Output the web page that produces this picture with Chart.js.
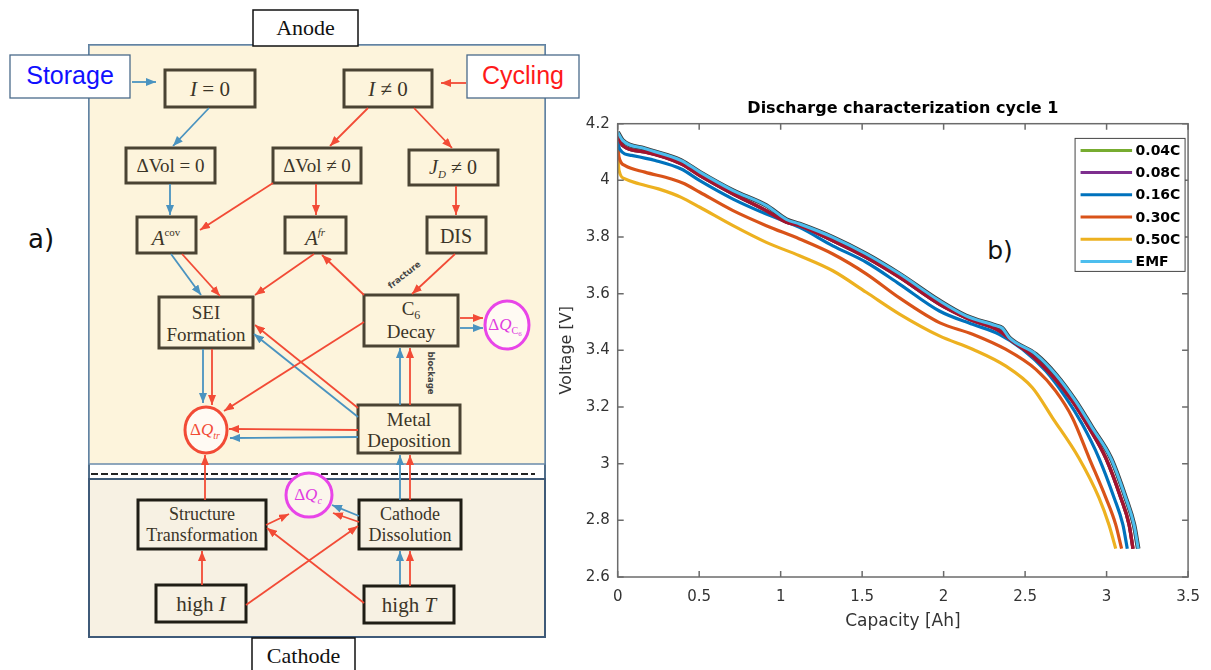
<!DOCTYPE html>
<html>
<head>
<meta charset="utf-8">
<script src="https://cdn.jsdelivr.net/npm/chart.js@4.4.1/dist/chart.umd.min.js"></script>
<style>
  body { margin: 0; width: 1211px; height: 670px; background: #fff; position: relative; overflow: hidden; }
  #fig { position: absolute; left: 0; top: 0; }
  #plot { position: absolute; left: 545px; top: 95px; width: 666px; height: 575px; }
  .serif { font-family: "Liberation Serif", "Times New Roman", serif; fill: #3b3528; }
  .sans { font-family: "Liberation Sans", Arial, sans-serif; }
</style>
</head>
<body>
<svg id="fig" width="1211" height="670">
  <defs>
    <marker id="ar" viewBox="0 0 10 8" refX="10" refY="4" markerWidth="10" markerHeight="8" markerUnits="userSpaceOnUse" orient="auto">
      <path d="M0,0 L10,4 L0,8 z" fill="#f24b36"/>
    </marker>
    <marker id="ab" viewBox="0 0 10 8" refX="10" refY="4" markerWidth="10" markerHeight="8" markerUnits="userSpaceOnUse" orient="auto">
      <path d="M0,0 L10,4 L0,8 z" fill="#4a93c0"/>
    </marker>
  </defs>

  <!-- frame + regions -->
  <rect x="89" y="45" width="456" height="592" fill="#fff" stroke="#4f6d8a" stroke-width="2"/>
  <rect x="89" y="45" width="456" height="419" fill="#fdf4dc" stroke="#6a8bab" stroke-width="1.5"/>
  <line x1="91" y1="474" x2="535" y2="474" stroke="#222" stroke-width="2" stroke-dasharray="7 3"/>
  <rect x="89" y="479" width="456" height="158" fill="#f7f1e3" stroke="#3f5a78" stroke-width="2"/>

  <rect x="253" y="10" width="105" height="36" fill="#fff" stroke="#111" stroke-width="1.5"/>
  <text x="305.5" y="35" text-anchor="middle" class="serif" font-size="22" style="fill:#111">Anode</text>
  <rect x="252" y="638" width="103" height="40" fill="#fff" stroke="#111" stroke-width="1.5"/>
  <text x="303.5" y="663" text-anchor="middle" class="serif" font-size="22" style="fill:#111">Cathode</text>

  <rect x="10" y="55" width="120" height="43" fill="#fff" stroke="#4a6a8a" stroke-width="1.3"/>
  <text x="70" y="84" text-anchor="middle" class="sans" font-size="25" fill="#1010ff">Storage</text>
  <rect x="467" y="55" width="112" height="43" fill="#fff" stroke="#4a6a8a" stroke-width="1.3"/>
  <text x="523" y="84" text-anchor="middle" class="sans" font-size="25" fill="#ff1a1a">Cycling</text>

  <!-- boxes -->
  <g fill="none" stroke="#4a4333" stroke-width="3">
    <rect x="165" y="70" width="90" height="37"/>
    <rect x="344" y="70" width="88" height="37"/>
    <rect x="126" y="148" width="89" height="35"/>
    <rect x="273" y="148" width="88" height="35"/>
    <rect x="409" y="150" width="89" height="35"/>
    <rect x="137" y="217" width="59" height="36"/>
    <rect x="285" y="217" width="61" height="36"/>
    <rect x="427" y="217" width="59" height="36"/>
    <rect x="159" y="297" width="94" height="51"/>
    <rect x="364" y="295" width="94" height="51"/>
    <rect x="358" y="405" width="102" height="48"/>
  </g>
  <g fill="none" stroke="#1f1d15" stroke-width="3">
    <rect x="138" y="500" width="128" height="49"/>
    <rect x="359" y="500" width="102" height="49"/>
    <rect x="156" y="585" width="90" height="37"/>
    <rect x="364" y="586" width="90" height="37"/>
  </g>

  <!-- circles -->
  <ellipse cx="507" cy="325" rx="22" ry="24" fill="#fffaf3" stroke="#e845e8" stroke-width="3"/>
  <ellipse cx="206" cy="430" rx="21" ry="23" fill="#fffaf3" stroke="#f24b36" stroke-width="3"/>
  <ellipse cx="309" cy="495" rx="23" ry="22" fill="#fbf6ec" stroke="#e845e8" stroke-width="3"/>

  <!-- box texts -->
  <g class="serif" text-anchor="middle">
    <text x="210" y="96" font-size="21"><tspan font-style="italic">I</tspan> = 0</text>
    <text x="388" y="96" font-size="21"><tspan font-style="italic">I</tspan> ≠ 0</text>
    <text x="170.5" y="172" font-size="19">ΔVol = 0</text>
    <text x="317" y="172" font-size="19">ΔVol ≠ 0</text>
    <text x="453" y="174" font-size="20"><tspan font-style="italic">J</tspan><tspan font-style="italic" font-size="11" dy="4">D</tspan><tspan dy="-4"> ≠ 0</tspan></text>
    <text x="166" y="245" font-size="21"><tspan font-style="italic">A</tspan><tspan font-size="11" dy="-9">cov</tspan></text>
    <text x="315" y="245" font-size="21"><tspan font-style="italic">A</tspan><tspan font-style="italic" font-size="11" dy="-9">fr</tspan></text>
    <text x="456" y="243" font-size="20">DIS</text>
    <text x="206" y="319" font-size="19">SEI</text>
    <text x="206" y="341" font-size="19">Formation</text>
    <text x="411" y="315" font-size="19">C<tspan font-size="12" dy="4">6</tspan></text>
    <text x="411" y="338" font-size="19">Decay</text>
    <text x="409" y="426" font-size="19">Metal</text>
    <text x="409" y="447" font-size="19">Deposition</text>
    <text x="202" y="520" font-size="18">Structure</text>
    <text x="202" y="541" font-size="18">Transformation</text>
    <text x="410" y="520" font-size="18">Cathode</text>
    <text x="410" y="541" font-size="18">Dissolution</text>
    <text x="201" y="611" font-size="21">high <tspan font-style="italic">I</tspan></text>
    <text x="409" y="612" font-size="21">high <tspan font-style="italic">T</tspan></text>
  </g>
  <g font-family="Liberation Serif, serif" text-anchor="middle" font-size="17">
    <text x="505" y="330" fill="#e03ce0">Δ<tspan font-style="italic">Q</tspan><tspan font-size="10" dy="4">C</tspan><tspan font-size="7" dy="2">6</tspan></text>
    <text x="205" y="435" fill="#f24b36">Δ<tspan font-style="italic">Q</tspan><tspan font-style="italic" font-size="10" dy="4">tr</tspan></text>
    <text x="308" y="500" fill="#e03ce0">Δ<tspan font-style="italic">Q</tspan><tspan font-style="italic" font-size="10" dy="4">c</tspan></text>
  </g>
  <g font-family="DejaVu Sans, sans-serif" font-weight="bold" font-size="8.5" fill="#444" text-anchor="middle">
    <text transform="translate(406,277) rotate(-38)">fracture</text>
    <text transform="translate(428,373) rotate(90)">blockage</text>
  </g>

  <!-- arrows -->
  <g stroke="#4a93c0" stroke-width="1.8" marker-end="url(#ab)">
    <line x1="132" y1="82" x2="156" y2="82"/>
    <line x1="209" y1="108" x2="173" y2="146"/>
    <line x1="170" y1="184" x2="170" y2="215"/>
    <line x1="171" y1="254" x2="201" y2="295"/>
    <line x1="203" y1="349" x2="203" y2="403"/>
    <line x1="358" y1="417" x2="254" y2="334"/>
    <line x1="400" y1="405" x2="400" y2="348"/>
    <line x1="358" y1="437" x2="230" y2="438"/>
    <line x1="460" y1="328" x2="483" y2="328"/>
    <line x1="400" y1="500" x2="400" y2="455"/>
    <line x1="400" y1="585" x2="400" y2="551"/>
    <line x1="359" y1="516" x2="332" y2="505"/>
  </g>
  <g stroke="#f24b36" stroke-width="1.8" marker-end="url(#ar)">
    <line x1="466" y1="83" x2="441" y2="83"/>
    <line x1="368" y1="108" x2="330" y2="146"/>
    <line x1="414" y1="108" x2="452" y2="148"/>
    <line x1="273" y1="183" x2="200" y2="230"/>
    <line x1="316" y1="184" x2="316" y2="215"/>
    <line x1="456" y1="186" x2="456" y2="215"/>
    <line x1="182" y1="254" x2="220" y2="296"/>
    <line x1="314" y1="254" x2="255" y2="295"/>
    <line x1="364" y1="295" x2="322" y2="255"/>
    <line x1="455" y1="254" x2="412" y2="294"/>
    <line x1="212" y1="349" x2="212" y2="405"/>
    <line x1="364" y1="322" x2="224" y2="411"/>
    <line x1="358" y1="408" x2="255" y2="325"/>
    <line x1="410" y1="405" x2="410" y2="348"/>
    <line x1="358" y1="430" x2="229" y2="429"/>
    <line x1="460" y1="318" x2="483" y2="318"/>
    <line x1="205" y1="500" x2="205" y2="455"/>
    <line x1="410" y1="500" x2="410" y2="455"/>
    <line x1="202" y1="585" x2="202" y2="551"/>
    <line x1="246" y1="605" x2="358" y2="526"/>
    <line x1="364" y1="603" x2="267" y2="528"/>
    <line x1="410" y1="586" x2="410" y2="551"/>
    <line x1="266" y1="525" x2="289" y2="514"/>
    <line x1="359" y1="522" x2="333" y2="513"/>
  </g>

  <text x="41" y="248" text-anchor="middle" font-family="DejaVu Sans, sans-serif" font-size="26" fill="#111">a)</text>
  <text x="1000" y="259" text-anchor="middle" font-family="DejaVu Sans, sans-serif" font-size="25" fill="#111">b)</text>
</svg>

<div id="plot"><canvas id="c"></canvas></div>

<script>
// capacity [Ah] / voltage [V]
const capEMF = [0, 0.03, 0.167, 0.39, 0.504, 0.708, 0.912, 1.035, 1.116, 1.32, 1.525, 1.729, 1.974, 2.137, 2.32, 2.36, 2.402, 2.566, 2.688, 2.81, 2.912, 3.026, 3.117, 3.168, 3.194];
const voltEMF = [4.17, 4.141, 4.112, 4.07, 4.029, 3.964, 3.911, 3.862, 3.846, 3.799, 3.74, 3.67, 3.575, 3.522, 3.487, 3.478, 3.445, 3.386, 3.315, 3.221, 3.127, 3.02, 2.88, 2.785, 2.70];

// dark red trace (0.04C and 0.08C run underneath it)
const capLow = [0, 0.03, 0.167, 0.39, 0.504, 0.708, 0.912, 1.035, 1.116, 1.32, 1.525, 1.729, 1.974, 2.157, 2.341, 2.42, 2.545, 2.667, 2.79, 2.892, 2.995, 3.087, 3.138, 3.162];
const voltLow = [4.159, 4.123, 4.10, 4.058, 4.017, 3.952, 3.893, 3.852, 3.84, 3.787, 3.728, 3.658, 3.563, 3.51, 3.469, 3.433, 3.38, 3.31, 3.221, 3.127, 3.02, 2.88, 2.785, 2.70];

const cap016 = [0, 0.012, 0.086, 0.23, 0.39, 0.504, 0.708, 0.912, 1.116, 1.32, 1.525, 1.729, 1.974, 2.178, 2.341, 2.484, 2.627, 2.75, 2.851, 2.953, 3.046, 3.10, 3.127];
const volt016 = [4.147, 4.11, 4.088, 4.07, 4.04, 3.999, 3.934, 3.881, 3.834, 3.769, 3.711, 3.634, 3.539, 3.492, 3.457, 3.404, 3.327, 3.233, 3.139, 3.02, 2.88, 2.785, 2.70];

const cap030 = [0, 0.008, 0.045, 0.167, 0.33, 0.41, 0.504, 0.708, 0.912, 1.116, 1.32, 1.525, 1.729, 1.974, 2.178, 2.38, 2.566, 2.688, 2.79, 2.893, 2.995, 3.056, 3.092];
const volt030 = [4.13, 4.082, 4.052, 4.029, 4.005, 3.988, 3.958, 3.893, 3.84, 3.793, 3.74, 3.67, 3.585, 3.498, 3.457, 3.404, 3.333, 3.256, 3.162, 3.02, 2.88, 2.785, 2.70];

const cap050 = [0, 0.008, 0.045, 0.13, 0.25, 0.39, 0.504, 0.708, 0.912, 1.116, 1.32, 1.525, 1.729, 1.974, 2.178, 2.38, 2.545, 2.668, 2.83, 2.953, 3.014, 3.056];
const volt050 = [4.094, 4.035, 4.005, 3.988, 3.97, 3.94, 3.905, 3.84, 3.781, 3.734, 3.681, 3.605, 3.528, 3.451, 3.404, 3.345, 3.268, 3.162, 3.02, 2.88, 2.785, 2.70];

const xTicks = [0, 0.5, 1, 1.5, 2, 2.5, 3, 3.5];
const yTicks = [2.6, 2.8, 3, 3.2, 3.4, 3.6, 3.8, 4, 4.2];
const legendLabels = ["0.04C", "0.08C", "0.16C", "0.30C", "0.50C", "EMF"];
const legendColors = ["#77AC30", "#7E2F8E", "#0072BD", "#D95319", "#EDB120", "#4DBEEE"];

const pts = (xs, ys) => xs.map((x, i) => ({ x: x, y: ys[i] }));

// inward ticks on all four sides, box and the in-plot legend
const matlabAxes = {
  id: "matlabAxes",
  afterDatasetsDraw(chart) {
    const { ctx, chartArea: a, scales: { x, y } } = chart;
    ctx.save();
    ctx.strokeStyle = "#6b6b6b";
    ctx.lineWidth = 1.5;
    ctx.strokeRect(a.left, a.top, a.right - a.left, a.bottom - a.top);
    ctx.beginPath();
    x.ticks.forEach((t) => {
      const px = x.getPixelForValue(t.value);
      ctx.moveTo(px, a.bottom); ctx.lineTo(px, a.bottom - 6);
      ctx.moveTo(px, a.top); ctx.lineTo(px, a.top + 6);
    });
    y.ticks.forEach((t) => {
      const py = y.getPixelForValue(t.value);
      ctx.moveTo(a.left, py); ctx.lineTo(a.left + 6, py);
      ctx.moveTo(a.right, py); ctx.lineTo(a.right - 6, py);
    });
    ctx.stroke();

    const bx = a.right - 113, by = a.top + 14.7, bw = 110, bh = 133;
    ctx.fillStyle = "#fff";
    ctx.fillRect(bx, by, bw, bh);
    ctx.strokeStyle = "#444";
    ctx.lineWidth = 1;
    ctx.strokeRect(bx, by, bw, bh);
    ctx.font = "bold 14px 'DejaVu Sans'";
    ctx.textBaseline = "middle";
    legendLabels.forEach((lab, i) => {
      const ly = by + 12 + i * 22.2;
      ctx.strokeStyle = legendColors[i];
      ctx.lineWidth = 3;
      ctx.beginPath();
      ctx.moveTo(bx + 5.5, ly); ctx.lineTo(bx + 57, ly);
      ctx.stroke();
      ctx.fillStyle = "#000";
      ctx.fillText(lab, bx + 60.5, ly + 1);
    });
    ctx.restore();
  },
};

new Chart(document.getElementById("c").getContext("2d"), {
  type: "line",
  data: {
    datasets: [
      { label: "EMF", data: pts(capEMF, voltEMF), borderColor: "#4DBEEE", borderWidth: 3, order: 0 },
      { label: "", data: pts(capLow, voltLow), borderColor: "#A2142F", borderWidth: 3.4, order: 1 },
      { label: "", data: pts(capEMF, voltEMF), borderColor: "#3a3a3a", borderWidth: 4.6, order: 2 },
      { label: "0.08C", data: pts(capLow, voltLow), borderColor: "#7E2F8E", order: 3 },
      { label: "0.04C", data: pts(capLow, voltLow), borderColor: "#77AC30", order: 4 },
      { label: "0.16C", data: pts(cap016, volt016), borderColor: "#0072BD", order: 5 },
      { label: "0.30C", data: pts(cap030, volt030), borderColor: "#D95319", order: 6 },
      { label: "0.50C", data: pts(cap050, volt050), borderColor: "#EDB120", order: 7 },
    ],
  },
  options: {
    responsive: true,
    maintainAspectRatio: false,
    animation: false,
    datasets: { line: { pointRadius: 0, borderWidth: 3.2, fill: false, cubicInterpolationMode: "monotone" } },
    layout: { padding: { left: 0, right: 22, top: 0, bottom: 23 } },
    plugins: {
      legend: { display: false },
      tooltip: { enabled: false },
      title: {
        display: true,
        text: "Discharge characterization cycle 1",
        fullSize: false,
        color: "#000",
        font: { family: "DejaVu Sans", size: 16, weight: "bold" },
        padding: { top: 4, bottom: 5.5 },
      },
    },
    scales: {
      x: {
        type: "linear",
        min: 0,
        max: 3.5,
        afterBuildTicks: (s) => { s.ticks = xTicks.map((v) => ({ value: v })); },
        afterFit: (s) => { s.height = 70; },
        grid: { display: false, drawTicks: false },
        border: { display: false },
        ticks: { padding: 11, color: "#333", font: { family: "DejaVu Sans", size: 15 }, callback: (v) => String(v) },
        title: { display: true, text: "Capacity [Ah]", color: "#333", font: { family: "DejaVu Sans", size: 17 }, padding: { top: 0, bottom: 15 } },
      },
      y: {
        type: "linear",
        min: 2.6,
        max: 4.2,
        afterBuildTicks: (s) => { s.ticks = yTicks.map((v) => ({ value: v })); },
        afterFit: (s) => { s.width = 72.7; },
        grid: { display: false, drawTicks: false },
        border: { display: false },
        ticks: { padding: 8, color: "#333", font: { family: "DejaVu Sans", size: 15 }, callback: (v) => String(+v.toFixed(2)) },
        title: { display: true, text: "Voltage [V]", color: "#333", font: { family: "DejaVu Sans", size: 16 }, padding: { top: 12.4, bottom: 0 } },
      },
    },
  },
  plugins: [matlabAxes],
});
</script>
</body>
</html>
